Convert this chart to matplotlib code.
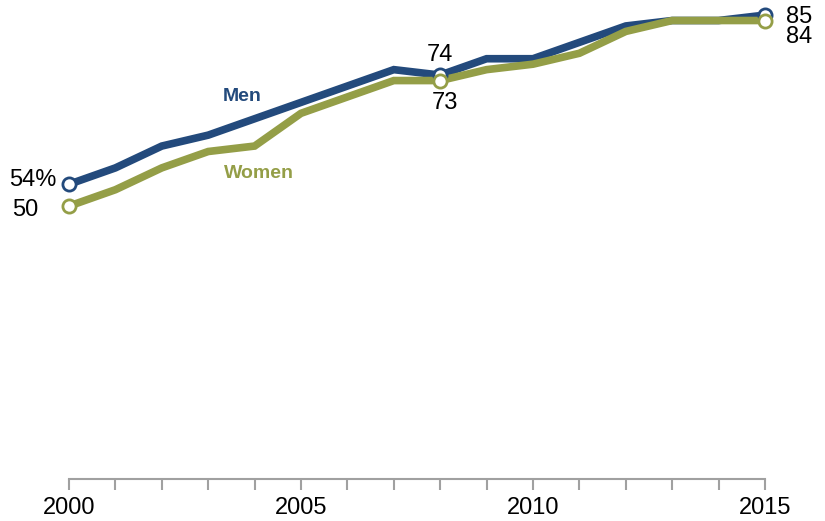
import numpy as np
import matplotlib.pyplot as plt

plt.rcParams['font.family'] = ['Liberation Sans', 'DejaVu Sans']

years = list(range(2000, 2016))
men = [54, 57, 61, 63, 66, 69, 72, 75, 74, 77, 77, 80, 83, 84, 84, 85]
women = [50, 53, 57, 60, 61, 67, 70, 73, 73, 75, 76, 78, 82, 84, 84, 84]
tick_years = [2000, 2005, 2010, 2015]

men_color = '#234a7c'
women_color = '#949e47'

fig = plt.figure(figsize=(8.25, 5.21), dpi=100)
ax = fig.add_axes([69 / 825, 42 / 521, (765 - 69) / 825, (479 - 9.6) / 521])

ax.plot(years, women, color=women_color, lw=5.5, solid_joinstyle='miter', zorder=2, clip_on=False)
ax.plot(years, men, color=men_color, lw=5.5, solid_joinstyle='miter', zorder=1, clip_on=False)

# marked points: first, 2008, last
for idx in [0, 8, 15]:
    ax.plot(years[idx], men[idx], 'o', ms=9.5, mfc='white', mec=men_color, mew=2, zorder=3, clip_on=False)
    ax.plot(years[idx], women[idx], 'o', ms=9.5, mfc='white', mec=women_color, mew=2, zorder=4, clip_on=False)

fs = 17
ax.text(years[0] - 0.28, men[0] + 0.7, f'{men[0]}%', ha='right', va='center', fontsize=fs)
ax.text(years[0] - 0.65, women[0] - 0.7, f'{women[0]}', ha='right', va='center', fontsize=fs)
ax.text(years[8], men[8] + 3.6, f'{men[8]}', ha='center', va='center', fontsize=fs)
ax.text(years[8] + 0.1, women[8] - 4.2, f'{women[8]}', ha='center', va='center', fontsize=fs)
ax.text(years[15] + 0.45, men[15] - 0.3, f'{men[15]}', ha='left', va='center', fontsize=fs)
ax.text(years[15] + 0.45, women[15] - 3.0, f'{women[15]}', ha='left', va='center', fontsize=fs)

ax.text(2003.73, 70.0, 'Men', color=men_color, fontsize=14, fontweight='bold', ha='center', va='center')
ax.text(2004.1, 56.0, 'Women', color=women_color, fontsize=14, fontweight='bold', ha='center', va='center')

ax.set_xlim(2000, 2015)
ax.set_ylim(0, 86)
ax.set_yticks([])
ax.set_xticks(years, minor=False)
ax.set_xticklabels([str(y) if y in tick_years else '' for y in years], fontsize=17)
ax.tick_params(axis='x', length=8, width=1.5, color='#a0a0a0', pad=5)

for s in ['top', 'right', 'left']:
    ax.spines[s].set_visible(False)
ax.spines['bottom'].set_color('#a0a0a0')
ax.spines['bottom'].set_linewidth(1.5)

fig.savefig('out.png', dpi=100)
